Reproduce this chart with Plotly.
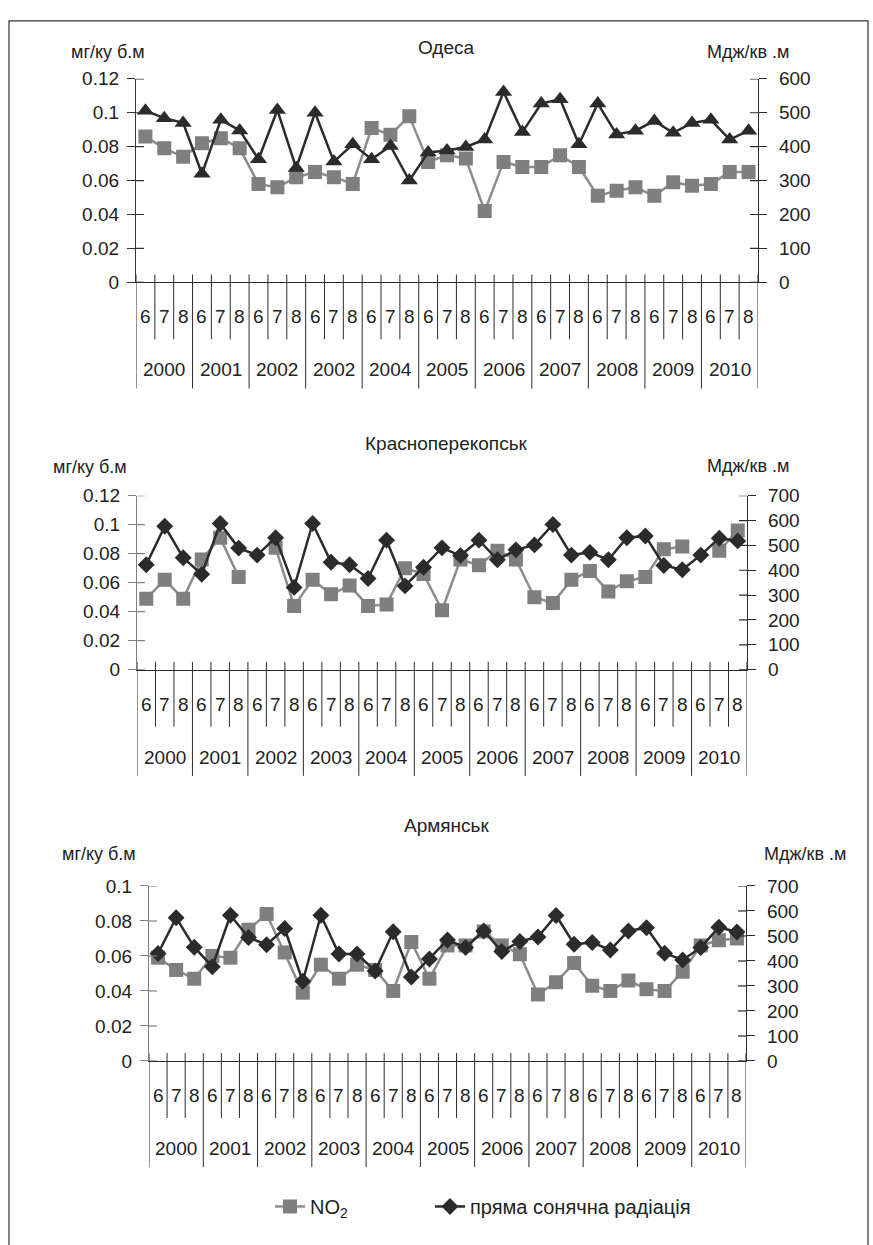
import plotly.graph_objects as go

W, H = 873, 1245
FONT = "Liberation Sans, Arial, sans-serif"
FS = 19

months = ["6", "7", "8"] * 11
years_odesa = ["2000", "2001", "2002", "2002", "2004", "2005", "2006", "2007", "2008", "2009", "2010"]
years = ["2000", "2001", "2002", "2003", "2004", "2005", "2006", "2007", "2008", "2009", "2010"]

odesa_no2 = [0.086, 0.079, 0.074, 0.082, 0.085, 0.079, 0.058, 0.056, 0.062, 0.065, 0.062, 0.058,
             0.091, 0.087, 0.098, 0.071, 0.075, 0.073, 0.042, 0.071, 0.068, 0.068, 0.075, 0.068,
             0.051, 0.054, 0.056, 0.051, 0.059, 0.057, 0.058, 0.065, 0.065]
odesa_rad = [506, 484, 470, 320, 479, 448, 363, 508, 337, 500, 356, 407, 363, 402, 300, 383,
             389, 399, 421, 561, 443, 527, 540, 407, 527, 436, 447, 476, 441, 470, 479, 421, 447]

krasno_no2 = [0.049, 0.062, 0.049, 0.076, 0.091, 0.064, None, 0.084, 0.044, 0.062, 0.052, 0.058,
              0.044, 0.045, 0.070, 0.066, 0.041, 0.076, 0.072, 0.082, 0.076, 0.050, 0.046, 0.062,
              0.068, 0.054, 0.061, 0.064, 0.083, 0.085, None, 0.082, 0.096]
krasno_rad = [422, 577, 450, 384, 588, 489, 461, 531, 331, 588, 432, 422, 367, 521, 337, 412,
              490, 459, 521, 442, 482, 502, 584, 461, 472, 442, 531, 538, 419, 402, 461, 529, 518]

arm_no2 = [0.059, 0.052, 0.047, 0.060, 0.059, 0.075, 0.084, 0.062, 0.039, 0.055, 0.047, 0.055,
           0.052, 0.040, 0.068, 0.047, 0.066, 0.066, 0.074, 0.066, 0.061, 0.038, 0.045, 0.056,
           0.043, 0.040, 0.046, 0.041, 0.040, 0.051, 0.066, 0.069, 0.070]
arm_rad = [430, 573, 455, 377, 583, 494, 465, 530, 319, 583, 428, 428, 360, 517, 336, 408,
           484, 454, 520, 438, 478, 496, 582, 467, 474, 444, 520, 533, 431, 404, 454, 535, 516]

# panel geometry in page pixels: (left, right, top, bottom)
panels = [
    dict(title="Одеса", box=(136, 758, 70, 277), no2=odesa_no2, rad=odesa_rad, yrs=years_odesa,
         lmax=0.12, rmax=600, sym="triangle-up", msize=15, leftcol="#333333",
         ttl=(447, 38), lt=(108, 43), rt=(748, 43), legend=False),
    dict(title="Красноперекопськ", box=(137, 747, 494, 671), no2=krasno_no2, rad=krasno_rad, yrs=years,
         lmax=0.12, rmax=700, sym="diamond", msize=13, leftcol="#808080",
         ttl=(447, 441), lt=(90, 465), rt=(748, 464), legend=False),
    dict(title="Армянськ", box=(149, 746, 891, 1069), no2=arm_no2, rad=arm_rad, yrs=years,
         lmax=0.1, rmax=700, sym="diamond", msize=13, leftcol="#808080",
         ttl=(447, 829), lt=(99, 858), rt=(805, 858), legend=True),
]

fig = go.Figure()
shapes = []
annotations = []
DARK = "#2b2b2b"
TXT = "#222222"
n = len(months)
xs = list(range(n))


def pxx(x):
    return x / W


def pxy(y):
    return 1 - y / H


for k, p in enumerate(panels):
    L, R, T, B = p["box"]
    xa = "x" if k == 0 else f"x{k + 1}"
    ya = f"y{2 * k + 1}" if k > 0 else "y"
    yb = f"y{2 * k + 2}"
    xkey = "xaxis" if k == 0 else f"xaxis{k + 1}"
    ykey = "yaxis" if k == 0 else f"yaxis{2 * k + 1}"
    ykey2 = f"yaxis{2 * k + 2}"
    hpx = B - T
    wpx = R - L

    fig.add_trace(go.Scatter(
        x=xs, y=p["no2"], xaxis=xa, yaxis=ya, mode="lines+markers",
        name="NO<sub>2</sub>", showlegend=p["legend"], legend="legend",
        line=dict(color="#8c8c8c", width=2.5),
        marker=dict(symbol="square", size=14, color="#7f7f7f"),
    ))
    fig.add_trace(go.Scatter(
        x=xs, y=p["rad"], xaxis=xa, yaxis=yb, mode="lines+markers",
        name="пряма сонячна радіація", showlegend=p["legend"], legend="legend2",
        line=dict(color=DARK, width=2.5),
        marker=dict(symbol=p["sym"], size=p["msize"], color=DARK),
    ))

    fig.layout[xkey] = dict(
        domain=[pxx(L), pxx(R)], anchor=ya, range=[-0.5, n - 0.5],
        showticklabels=False, ticks="", showgrid=False, zeroline=False,
        showline=True, linecolor=DARK, linewidth=1.2, fixedrange=True,
    )
    ltick = [round(0.02 * i, 2) for i in range(int(round(p["lmax"] / 0.02)) + 1)]
    fig.layout[ykey] = dict(
        domain=[pxy(B), pxy(T)], anchor=xa, range=[0, p["lmax"]],
        tickvals=ltick, ticks="outside", ticklen=8, tickcolor=p["leftcol"],
        showline=True, linecolor=p["leftcol"], linewidth=1.2, showgrid=False, zeroline=False,
        tickfont=dict(family=FONT, size=FS, color=TXT), ticklabelstandoff=4,
    )
    rtick = list(range(0, p["rmax"] + 1, 100))
    fig.layout[ykey2] = dict(
        domain=[pxy(B), pxy(T)], anchor=xa, overlaying=ya, side="right", range=[0, p["rmax"]],
        tickvals=rtick, ticks="outside", ticklen=8, tickcolor=DARK,
        showline=True, linecolor=DARK, linewidth=1.2, showgrid=False, zeroline=False,
        tickfont=dict(family=FONT, size=FS, color=TXT), ticklabelstandoff=8,
    )

    # inside halves of the crossing tick marks
    for v in ltick:
        shapes.append(dict(type="line", xref=f"{xa} domain", yref=ya, x0=0, x1=8 / wpx, y0=v, y1=v,
                           line=dict(color=p["leftcol"], width=1.2)))
    for v in rtick:
        shapes.append(dict(type="line", xref=f"{xa} domain", yref=yb, x0=1 - 8 / wpx, x1=1, y0=v, y1=v,
                           line=dict(color=DARK, width=1.2)))

    # category boundaries: month separators and year separators
    for b in range(n + 1):
        low = 108 if b % 3 == 0 else 58
        shapes.append(dict(type="line", xref=xa, yref=f"{ya} domain", x0=b - 0.5, x1=b - 0.5,
                           y0=8 / hpx, y1=-low / hpx, line=dict(color=DARK, width=1)))
    for i, m in enumerate(months):
        annotations.append(dict(text=m, xref=xa, yref=f"{ya} domain", x=i, y=-35 / hpx,
                                showarrow=False, xanchor="center", yanchor="middle",
                                font=dict(family=FONT, size=FS, color=TXT)))
    for j, yr in enumerate(p["yrs"]):
        annotations.append(dict(text=yr, xref=xa, yref=f"{ya} domain", x=3 * j + 1, y=-89 / hpx,
                                showarrow=False, xanchor="center", yanchor="middle",
                                font=dict(family=FONT, size=FS, color=TXT)))

    annotations.append(dict(text=p["title"], xref="paper", yref="paper", x=pxx(p["ttl"][0]), y=pxy(p["ttl"][1]),
                            showarrow=False, xanchor="center", yanchor="middle",
                            font=dict(family=FONT, size=FS, color=TXT)))
    annotations.append(dict(text="мг/ку б.м", xref="paper", yref="paper", x=pxx(p["lt"][0]), y=pxy(p["lt"][1]),
                            showarrow=False, xanchor="center", yanchor="middle",
                            font=dict(family=FONT, size=18, color=TXT)))
    annotations.append(dict(text="Мдж/кв .м", xref="paper", yref="paper", x=pxx(p["rt"][0]), y=pxy(p["rt"][1]),
                            showarrow=False, xanchor="center", yanchor="middle",
                            font=dict(family=FONT, size=18, color=TXT)))

# outer frame
shapes.append(dict(type="rect", xref="paper", yref="paper", x0=pxx(9), x1=pxx(868), y0=pxy(1300), y1=pxy(11),
                   line=dict(color="#333333", width=1.2), fillcolor="rgba(0,0,0,0)"))

legfont = dict(family=FONT, size=20, color=TXT)
fig.update_layout(
    width=W, height=H, margin=dict(l=0, r=0, t=0, b=0),
    paper_bgcolor="white", plot_bgcolor="rgba(0,0,0,0)",
    shapes=shapes, annotations=annotations,
    font=dict(family=FONT, size=FS, color=TXT),
    showlegend=True,
    legend=dict(orientation="h", x=pxx(270), y=pxy(1217), xanchor="left", yanchor="middle",
                font=legfont, bgcolor="rgba(0,0,0,0)"),
    legend2=dict(orientation="h", x=pxx(430), y=pxy(1217), xanchor="left", yanchor="middle",
                 font=legfont, bgcolor="rgba(0,0,0,0)"),
)

fig.write_html(
    "out.html",
    post_script=("document.documentElement.style.margin='0';document.body.style.margin='0';"
                 "document.body.style.padding='0';document.documentElement.style.overflow='hidden';"
                 "document.body.style.overflow='hidden';"),
)
